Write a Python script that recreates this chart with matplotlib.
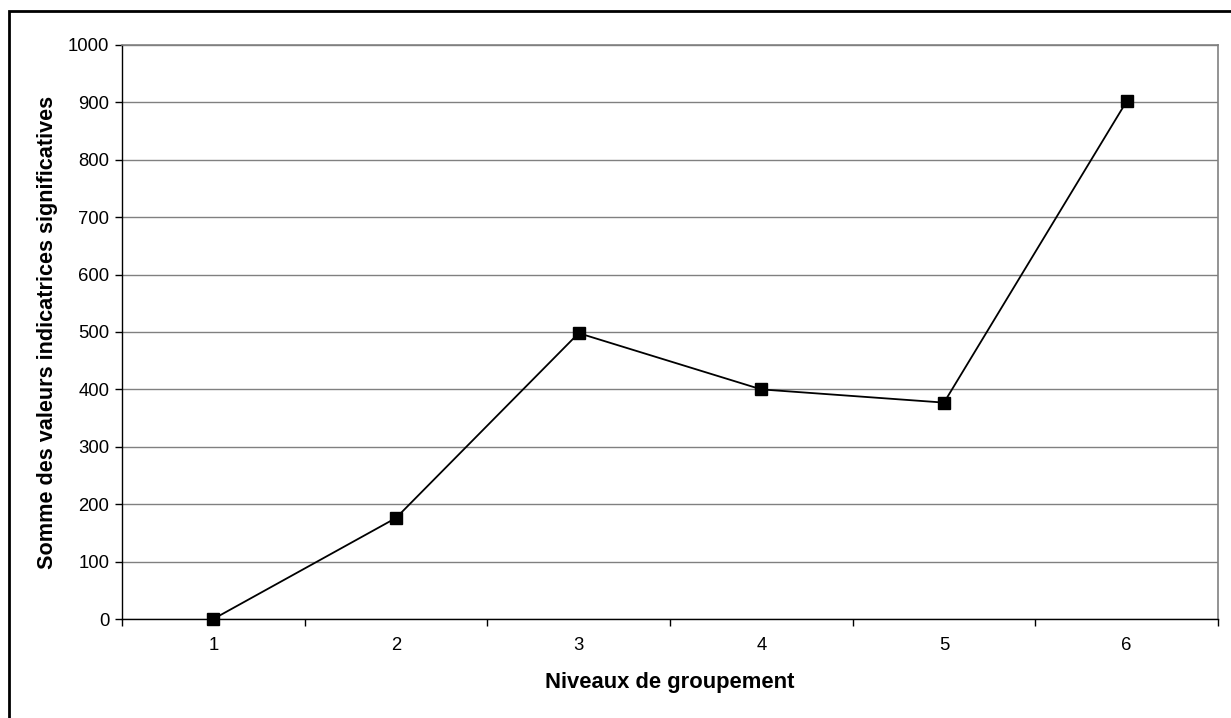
import matplotlib
matplotlib.use("Agg")
import matplotlib.pyplot as plt
from matplotlib.patches import Rectangle

plt.rcParams['font.family'] = ['Liberation Sans', 'DejaVu Sans']

categories = [1, 2, 3, 4, 5, 6]
values = [0, 176, 498, 400, 377, 902]
yticks = list(range(0, 1001, 100))

W, H = 1231, 718
fig = plt.figure(figsize=(W / 100, H / 100), dpi=100)
L, R, T, B = 122, 1218, 45, 619
ax = fig.add_axes([L / W, 1 - B / H, (R - L) / W, (B - T) / H])

# figure border (only top/left visible in reference)
fig.patches.append(Rectangle((9 / W, -0.1), 1.2, 1 - 11 / H + 0.1, transform=fig.transFigure,
                             fill=False, edgecolor='black', linewidth=2, zorder=0))

x = list(range(len(categories)))
ax.plot(x, values, color='black', linewidth=1.3, marker='s', markersize=8,
        markerfacecolor='black', markeredgecolor='black', zorder=3, clip_on=False)

ax.set_xlim(-0.5, len(categories) - 0.5)
ax.set_ylim(0, 1000)
ax.set_yticks(yticks)
ax.set_yticklabels([str(v) for v in yticks], fontsize=13.3)
ax.set_xticks(x)
ax.set_xticklabels([str(c) for c in categories], fontsize=13.3)
ax.tick_params(axis='x', which='major', length=0, pad=13)
ax.set_xticks([i - 0.5 for i in range(len(categories) + 1)], minor=True)
ax.tick_params(axis='x', which='minor', length=5, direction='out', width=1)
ax.tick_params(axis='y', length=5, direction='out', width=1, pad=4)

ax.grid(axis='y', color='#808080', linewidth=1)
ax.set_axisbelow(True)
for s in ['top', 'right']:
    ax.spines[s].set_color('#808080')
    ax.spines[s].set_linewidth(1.2)
for s in ['left', 'bottom']:
    ax.spines[s].set_color('black')
    ax.spines[s].set_linewidth(1)

ax.set_xlabel('Niveaux de groupement', fontsize=15.8, fontweight='bold', labelpad=13)
ax.set_ylabel('Somme des valeurs indicatrices significatives', fontsize=15.6,
              fontweight='bold', labelpad=7)

fig.savefig('out.png', dpi=100, facecolor='white')
